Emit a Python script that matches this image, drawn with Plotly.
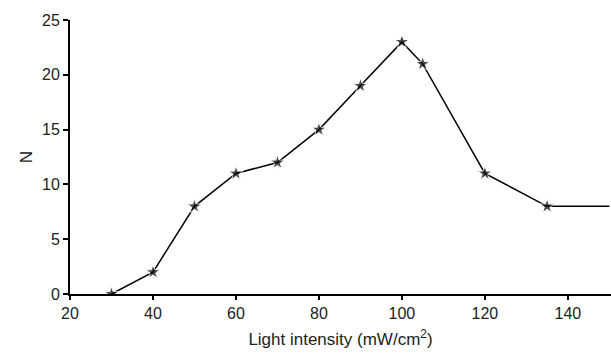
import plotly.graph_objects as go

intensity = [30, 40, 50, 60, 70, 80, 90, 100, 105, 120, 135, 150]
n_values = [0, 2, 8, 11, 12, 15, 19, 23, 21, 11, 8, 8]
marker_sizes = [11] * 11 + [0]

x_ticks = [20, 40, 60, 80, 100, 120, 140]
y_ticks = [0, 5, 10, 15, 20, 25]

fig = go.Figure(go.Scatter(
    x=intensity, y=n_values, mode="lines+markers",
    line=dict(color="black", width=1.5),
    marker=dict(symbol="star", size=marker_sizes, color="black"),
    cliponaxis=True,
))

tick_font = dict(family="Liberation Sans, Arial, sans-serif", size=16, color="#222")
title_font = dict(family="Liberation Sans, Arial, sans-serif", size=17, color="#222")
fig.update_layout(
    width=611, height=357,
    margin=dict(l=70, r=0, t=20, b=63),
    plot_bgcolor="white", paper_bgcolor="white",
    showlegend=False, font=tick_font,
)
fig.update_xaxes(
    range=[20, 150.4], tickvals=x_ticks, ticks="outside", ticklen=4, tickwidth=2,
    tickcolor="black", showline=True, linecolor="black", linewidth=2,
    showgrid=False, zeroline=False, tickfont=tick_font,
    title=dict(text="Light intensity (mW/cm<sup>2</sup>)", font=title_font, standoff=12),
)
fig.update_yaxes(
    range=[0, 25], tickvals=y_ticks, ticks="outside", ticklen=5, tickwidth=2,
    tickcolor="black", showline=True, linecolor="black", linewidth=2,
    showgrid=False, zeroline=False, tickfont=tick_font,
    title=dict(text="N", font=title_font, standoff=5),
)
fig.write_html("out.html")
